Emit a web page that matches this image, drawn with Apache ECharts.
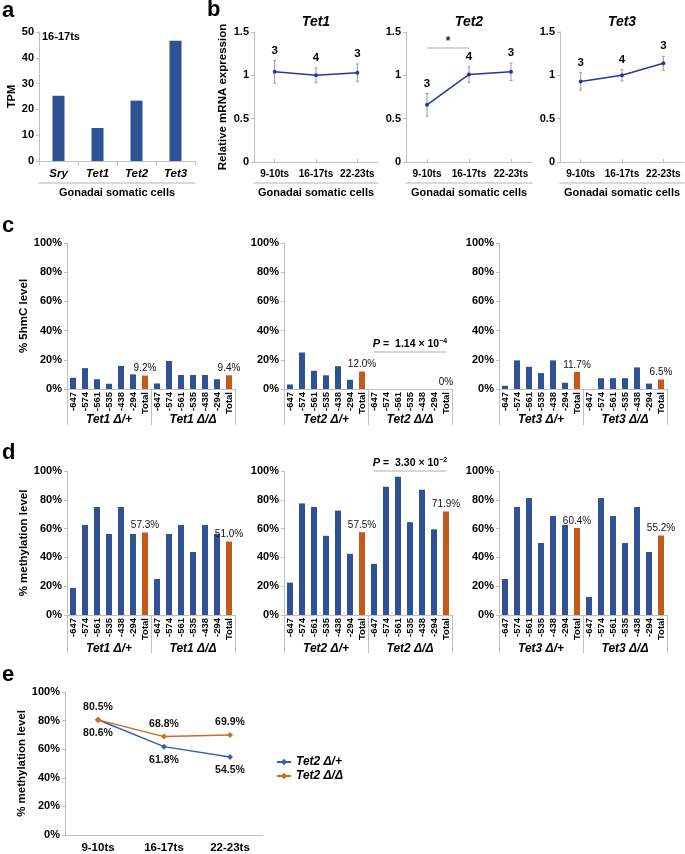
<!DOCTYPE html>
<html><head><meta charset="utf-8">
<script src="https://cdn.jsdelivr.net/npm/echarts@6/dist/echarts.min.js"></script>
<style>html,body{margin:0;padding:0;background:#fff}#chart{width:685px;height:854px}</style>
</head><body><div id="chart"></div>
<script>
// ---------- DATA ----------
const tpmGenes = ['Sry', 'Tet1', 'Tet2', 'Tet3'];
const tpmValues = [25.3, 12.8, 23.4, 46.6];

const stages = ['9-10ts', '16-17ts', '22-23ts'];
const tet1Mean = [1.04, 1.00, 1.03];
const tet1Err = [0.13, 0.085, 0.10];
const tet1N = [3, 4, 3];
const tet2Mean = [0.66, 1.01, 1.04];
const tet2Err = [0.13, 0.09, 0.10];
const tet2N = [3, 4, 3];
const tet3Mean = [0.93, 1.00, 1.14];
const tet3Err = [0.10, 0.065, 0.08];
const tet3N = [3, 4, 3];

const cpgSites = ['-647', '-574', '-561', '-535', '-438', '-294', 'Total'];
const tet1Groups = ['Tet1 Δ/+', 'Tet1 Δ/Δ'];
const tet2Groups = ['Tet2 Δ/+', 'Tet2 Δ/Δ'];
const tet3Groups = ['Tet3 Δ/+', 'Tet3 Δ/Δ'];

const hmcTet1Het = [7.7, 14.3, 6.7, 3.6, 15.8, 10.0, 9.2];
const hmcTet1Hom = [3.8, 19.2, 9.6, 9.6, 9.6, 6.7, 9.4];
const hmcTet2Het = [3.1, 25.0, 12.5, 9.4, 15.6, 6.3, 12.0];
const hmcTet2Hom = [0, 0, 0, 0, 0, 0, 0];
const hmcTet3Het = [2.2, 19.6, 15.2, 10.9, 19.6, 4.3, 11.7];
const hmcTet3Hom = [0, 7.4, 7.4, 7.4, 14.8, 3.7, 6.5];

const metTet1Het = [18.75, 62.5, 75, 56.25, 75, 56.25, 57.3];
const metTet1Hom = [25, 56.25, 62.5, 43.75, 62.5, 56.25, 51.0];
const metTet2Het = [22.5, 77.5, 75, 55, 72.5, 42.5, 57.5];
const metTet2Hom = [35.5, 89, 96, 64.5, 87, 59.5, 71.9];
const metTet3Het = [25, 75, 81.25, 50, 68.75, 62.5, 60.4];
const metTet3Hom = [12.5, 81.25, 68.75, 50, 75, 43.75, 55.2];

const tsStages = ['9-10ts', '16-17ts', '22-23ts'];
const tet2HetTime = [80.6, 61.8, 54.5];
const tet2HomTime = [80.5, 68.8, 69.9];

const pTet2Hmc = 25.5;   // bracket level (%)
const pTet2Met = 100;    // bracket level (%)
const sigTet2 = 1.32;    // bracket level, panel b

// ---------- STYLE ----------
const FONT = '"Liberation Sans", Arial, Helvetica, sans-serif';
const BLUE = '#2E5294';
const ORANGE = '#C4591C';
const GREY = '#BFBFBF';
const LINEBLUE = '#25399A';

const chart = echarts.init(document.getElementById('chart'), null, {renderer: 'canvas'});

const grids = [
  {left: 39, top: 32, width: 156, height: 129},   // 0 a
  {left: 254, top: 32, width: 124, height: 130},  // 1 b1
  {left: 406, top: 32, width: 126, height: 130},  // 2 b2
  {left: 560, top: 32, width: 124, height: 130},  // 3 b3
  {left: 67, top: 243, width: 168, height: 146},  // 4 c1
  {left: 284, top: 243, width: 168, height: 146}, // 5 c2
  {left: 499, top: 243, width: 168, height: 146}, // 6 c3
  {left: 67, top: 471, width: 168, height: 144},  // 7 d1
  {left: 284, top: 471, width: 168, height: 144}, // 8 d2
  {left: 499, top: 471, width: 168, height: 144}, // 9 d3
  {left: 65, top: 692, width: 198, height: 145}   // 10 e
];

const xAxes = [];
const yAxes = [];
const series = [];

function baseLine() { return {show: true, lineStyle: {color: GREY, width: 1}}; }

// ---- panel a ----
xAxes.push({type: 'category', gridIndex: 0, data: tpmGenes, boundaryGap: true,
  axisLine: baseLine(), axisTick: {show: true, length: 4, lineStyle: {color: GREY}},
  axisLabel: {interval: 0, margin: 7, color: '#000', fontFamily: FONT, fontSize: 11.5, fontWeight: 'bold', fontStyle: 'italic'}});
xAxes.push({type: 'category', gridIndex: 0, data: ['Gonadai somatic cells'], position: 'bottom', offset: 22,
  axisLine: {show: true, lineStyle: {color: '#CDCDCD', width: 1.5}}, axisTick: {show: false},
  axisLabel: {margin: 4, color: '#000', fontFamily: FONT, fontSize: 11, fontWeight: 'bold'}});
yAxes.push({type: 'value', gridIndex: 0, min: 0, max: 50, interval: 10,
  name: 'TPM', nameLocation: 'middle', nameGap: 21,
  nameTextStyle: {fontFamily: FONT, fontSize: 11, fontWeight: 'bold', color: '#000'},
  axisLine: baseLine(), axisTick: {show: true, length: 3, lineStyle: {color: GREY}}, splitLine: {show: false},
  axisLabel: {color: '#000', fontFamily: FONT, fontSize: 11, fontWeight: 'bold', margin: 5}});
series.push({type: 'bar', name: 'tpm', xAxisIndex: 0, yAxisIndex: 0, data: tpmValues, barWidth: 12,
  itemStyle: {color: BLUE}});

// ---- panel b ----
function errRender(params, api) {
  const x = api.value(0), m = api.value(1), e = api.value(2), n = api.value(3);
  const top = api.coord([x, m + e]);
  const bot = api.coord([x, m - e]);
  const st = {stroke: '#9A9A9A', lineWidth: 1};
  return {type: 'group', children: [
    {type: 'line', shape: {x1: top[0], y1: top[1], x2: bot[0], y2: bot[1]}, style: st},
    {type: 'line', shape: {x1: top[0] - 1.5, y1: top[1], x2: top[0] + 1.5, y2: top[1]}, style: st},
    {type: 'line', shape: {x1: bot[0] - 1.5, y1: bot[1], x2: bot[0] + 1.5, y2: bot[1]}, style: st},
    {type: 'text', x: top[0], y: top[1] - 4, style: {text: String(n), align: 'center', verticalAlign: 'bottom',
      textAlign: 'center', textVerticalAlign: 'bottom', font: 'bold 11.5px ' + FONT, fill: '#000'}}
  ]};
}
const bSets = [[tet1Mean, tet1Err, tet1N], [tet2Mean, tet2Err, tet2N], [tet3Mean, tet3Err, tet3N]];
bSets.forEach((s, i) => {
  const g = 1 + i;
  const xi = xAxes.length;
  xAxes.push({type: 'category', gridIndex: g, data: stages, boundaryGap: true,
    axisLine: baseLine(), axisTick: {show: true, alignWithLabel: true, inside: true, length: 3, lineStyle: {color: GREY}},
    axisLabel: {interval: 0, hideOverlap: false, margin: 7, color: '#000', fontFamily: FONT, fontSize: 10, fontWeight: 'bold'}});
  xAxes.push({type: 'category', gridIndex: g, data: ['Gonadai somatic cells'], position: 'bottom', offset: 21,
    axisLine: {show: true, lineStyle: {color: '#CDCDCD', width: 1.5}}, axisTick: {show: false},
    axisLabel: {margin: 4, color: '#000', fontFamily: FONT, fontSize: 11, fontWeight: 'bold'}});
  const yi = yAxes.length;
  const y = {type: 'value', gridIndex: g, min: 0, max: 1.5, interval: 0.5,
    axisLine: baseLine(), axisTick: {show: true, length: 3, lineStyle: {color: GREY}}, splitLine: {show: false},
    axisLabel: {color: '#000', fontFamily: FONT, fontSize: 11, fontWeight: 'bold', margin: 5}};
  if (i === 0) {
    Object.assign(y, {name: 'Relative mRNA expression', nameLocation: 'middle', nameGap: 25,
      nameTextStyle: {fontFamily: FONT, fontSize: 11.5, fontWeight: 'bold', color: '#000'}});
  }
  yAxes.push(y);
  series.push({type: 'custom', name: 'err' + i, xAxisIndex: xi, yAxisIndex: yi, renderItem: errRender,
    data: s[0].map((m, k) => [k, m, s[1][k], s[2][k]]), z: 2});
  const line = {type: 'line', name: 'expr' + i, xAxisIndex: xi, yAxisIndex: yi, data: s[0],
    symbol: 'circle', symbolSize: 4, lineStyle: {color: LINEBLUE, width: 1.5}, itemStyle: {color: LINEBLUE}, z: 3};
  if (i === 1) {
    line.markLine = {silent: true, symbol: 'none',
      lineStyle: {color: '#C8C8C8', width: 1.5, type: 'solid'},
      label: {show: true, position: 'middle', formatter: '*', distance: 0, color: '#222', fontFamily: FONT, fontSize: 12, fontWeight: 'bold'},
      data: [[{coord: [stages[0], sigTet2]}, {coord: [stages[1], sigTet2]}]]};
  }
  series.push(line);
});

// ---- panels c & d ----
function pctFmt(v) { return v === 0 ? '0%' : v.toFixed(1) + '%'; }
function makeBarPanel(g, groups, het, hom, yName, groupMargin, tickLen, pLevel, pText, pExp) {
  const xi = xAxes.length;
  xAxes.push({type: 'category', gridIndex: g, data: cpgSites.concat(cpgSites), boundaryGap: true,
    axisLine: baseLine(), axisTick: {show: false},
    axisLabel: {interval: 0, rotate: 90, margin: 3, color: '#000', fontFamily: FONT, fontSize: 9.5, fontWeight: 'bold'}});
  xAxes.push({type: 'category', gridIndex: g, data: groups, boundaryGap: true, position: 'bottom',
    axisLine: {show: false}, axisTick: {show: true, interval: 0, length: tickLen, lineStyle: {color: GREY}},
    axisLabel: {interval: 0, margin: groupMargin, color: '#000', fontFamily: FONT, fontSize: 12, fontWeight: 'bold', fontStyle: 'italic'}});
  const yi = yAxes.length;
  const y = {type: 'value', gridIndex: g, min: 0, max: 100, interval: 20,
    axisLine: baseLine(), axisTick: {show: true, length: 3, lineStyle: {color: GREY}}, splitLine: {show: false},
    axisLabel: {formatter: '{value}%', color: '#000', fontFamily: FONT, fontSize: 11, fontWeight: 'bold', margin: 5}};
  if (yName) {
    Object.assign(y, {name: yName, nameLocation: 'middle', nameGap: 36,
      nameTextStyle: {fontFamily: FONT, fontSize: 11.5, fontWeight: 'bold', color: '#000'}});
  }
  yAxes.push(y);
  const s = {type: 'bar', name: 'bars' + g, xAxisIndex: xi, yAxisIndex: yi, data: het.concat(hom), barWidth: 6,
    itemStyle: {color: p => (p.dataIndex % 7 === 6 ? ORANGE : BLUE)},
    label: {show: true, position: 'top', distance: 2, color: '#111', fontFamily: FONT, fontSize: 10,
      formatter: p => (p.dataIndex % 7 === 6 ? pctFmt(p.value) : '')}};
  if (pLevel !== undefined) {
    s.markLine = {silent: true, symbol: 'none',
      lineStyle: {color: '#C8C8C8', width: 1.5, type: 'solid'},
      label: {show: true, position: 'middle', distance: 2, formatter: '{i|P} =  ' + pText + '{s|−' + pExp + '}',
        color: '#000', fontFamily: FONT, fontSize: 10.5, fontWeight: 'bold',
        rich: {i: {fontStyle: 'italic', fontWeight: 'bold', fontSize: 11, fontFamily: FONT, color: '#000'},
               s: {fontSize: 7, fontFamily: FONT, fontWeight: 'bold', verticalAlign: 'top', color: '#000', padding: [0, 0, 5, 0]}}},
      data: [[{coord: [7, pLevel]}, {coord: [13, pLevel]}]]};
  }
  series.push(s);
}
makeBarPanel(4, tet1Groups, hmcTet1Het, hmcTet1Hom, '% 5hmC level', 25, 36);
makeBarPanel(5, tet2Groups, hmcTet2Het, hmcTet2Hom, null, 25, 36, pTet2Hmc, '1.14 × 10', '4');
makeBarPanel(6, tet3Groups, hmcTet3Het, hmcTet3Hom, null, 25, 36);
makeBarPanel(7, tet1Groups, metTet1Het, metTet1Hom, '% methylation level', 28, 38);
makeBarPanel(8, tet2Groups, metTet2Het, metTet2Hom, null, 28, 38, pTet2Met, '3.30 × 10', '2');
makeBarPanel(9, tet3Groups, metTet3Het, metTet3Hom, null, 28, 38);

// ---- panel e ----
const exi = xAxes.length;
xAxes.push({type: 'category', gridIndex: 10, data: tsStages, boundaryGap: true,
  axisLine: baseLine(), axisTick: {show: false},
  axisLabel: {interval: 0, margin: 7, color: '#000', fontFamily: FONT, fontSize: 11.5, fontWeight: 'bold'}});
const eyi = yAxes.length;
yAxes.push({type: 'value', gridIndex: 10, min: 0, max: 100, interval: 20,
  name: '% methylation level', nameLocation: 'middle', nameGap: 35,
  nameTextStyle: {fontFamily: FONT, fontSize: 11.5, fontWeight: 'bold', color: '#000'},
  axisLine: baseLine(), axisTick: {show: true, length: 3, lineStyle: {color: GREY}}, splitLine: {show: false},
  axisLabel: {formatter: '{value}%', color: '#000', fontFamily: FONT, fontSize: 11, fontWeight: 'bold', margin: 5}});
series.push({type: 'line', name: 'Tet2 Δ/+', xAxisIndex: exi, yAxisIndex: eyi, data: tet2HetTime,
  symbol: 'diamond', symbolSize: 6, lineStyle: {color: '#3B5EAD', width: 1.5}, itemStyle: {color: '#3B5EAD'},
  label: {show: true, position: 'bottom', distance: 5, formatter: p => p.value.toFixed(1) + '%',
    color: '#111', fontFamily: FONT, fontSize: 10.5, fontWeight: 'bold'}});
series.push({type: 'line', name: 'Tet2 Δ/Δ', xAxisIndex: exi, yAxisIndex: eyi, data: tet2HomTime,
  symbol: 'diamond', symbolSize: 6, lineStyle: {color: '#D06A24', width: 1.5}, itemStyle: {color: '#D06A24'},
  label: {show: true, position: 'top', distance: 4, formatter: p => p.value.toFixed(1) + '%',
    color: '#111', fontFamily: FONT, fontSize: 10.5, fontWeight: 'bold'}});

// ---------- text decorations ----------
function txt(x, y, text, font, align) {
  return {type: 'text', x: x, y: y, silent: true,
    style: {text: text, font: font, fill: '#000', align: align || 'left', verticalAlign: 'middle',
      textAlign: align || 'left', textVerticalAlign: 'middle'}};
}
const letterFont = 'bold 22px ' + FONT;
const graphic = [
  txt(2, 11, 'a', letterFont),
  txt(207, 10, 'b', letterFont),
  txt(2, 226, 'c', letterFont),
  txt(2, 453, 'd', letterFont),
  txt(2, 675, 'e', letterFont),
  txt(42, 37, '16-17ts', 'bold 11px ' + FONT),
  txt(316, 22, 'Tet1', 'italic bold 14px ' + FONT, 'center'),
  txt(469, 22, 'Tet2', 'italic bold 14px ' + FONT, 'center'),
  txt(622, 22, 'Tet3', 'italic bold 14px ' + FONT, 'center')
];

chart.setOption({
  animation: false,
  backgroundColor: '#fff',
  grid: grids,
  xAxis: xAxes,
  yAxis: yAxes,
  series: series,
  legend: {show: true, data: ['Tet2 Δ/+', 'Tet2 Δ/Δ'], orient: 'vertical', left: 271, top: 751,
    itemWidth: 14, itemHeight: 8, itemGap: 2,
    textStyle: {fontFamily: FONT, fontSize: 12, fontWeight: 'bold', fontStyle: 'italic', color: '#000'}},
  graphic: graphic
});
</script></body></html>
